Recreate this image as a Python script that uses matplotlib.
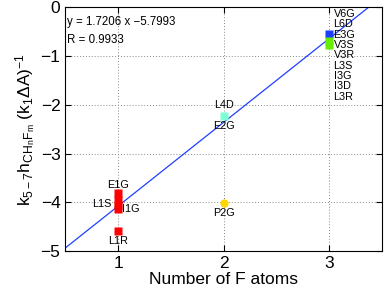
import matplotlib
matplotlib.use("Agg")
import matplotlib.pyplot as plt
import numpy as np

plt.rcParams['font.family'] = ['Liberation Sans', 'DejaVu Sans']
plt.rcParams['mathtext.fontset'] = 'custom'
plt.rcParams['mathtext.rm'] = 'Liberation Sans'
plt.rcParams['mathtext.it'] = 'Liberation Sans'

# fitted line
slope = 1.7206
intercept = -5.7993

# points: (n F atoms, value, colour, marker)
pts_x = [1, 1, 1, 1, 1, 2, 2, 3, 3, 3]
pts_y = [-3.82, -3.95, -4.05, -4.13, -4.6, -2.22, -4.01, -0.54, -0.68, -0.77]
pts_c = ['red', 'red', 'red', 'red', 'red', '#7fffd4', 'gold', '#1f3fff', '#66ee00', '#66ee00']
pts_m = ['s', 's', 's', 's', 's', 's', 'o', 's', 's', 's']

# labels
lab_text = ['E1G', 'L1S', 'I1G', 'L1R', 'L4D', 'E2G', 'P2G',
            'V6G', 'L6D', 'E3G', 'V3S', 'V3R', 'L3S', 'I3G', 'I3D', 'L3R']
lab_x = [1.0, 0.94, 1.04, 1.0, 2.0, 2.0, 2.0,
         3.04, 3.04, 3.04, 3.04, 3.04, 3.04, 3.04, 3.04, 3.04]
lab_y = [-3.64, -4.03, -4.13, -4.79, -2.0, -2.43, -4.22,
         -0.14, -0.35, -0.56, -0.77, -0.98, -1.2, -1.41, -1.62, -1.84]
lab_ha = ['center', 'right', 'left', 'center', 'center', 'center', 'center',
          'left', 'left', 'left', 'left', 'left', 'left', 'left', 'left', 'left']

fig, ax = plt.subplots(figsize=(3.84, 2.97), dpi=100)
fig.subplots_adjust(left=0.17, right=0.995, top=0.975, bottom=0.155)

xs = np.array([0.5, 3.5])
ax.plot(xs, slope * xs + intercept, color='#1f3fff', lw=0.9, zorder=2)

for x, y, c, m in zip(pts_x, pts_y, pts_c, pts_m):
    ax.plot(x, y, marker=m, color=c, ms=6, mec='none', zorder=3)

for t, x, y, ha in zip(lab_text, lab_x, lab_y, lab_ha):
    ax.text(x, y, t, ha=ha, va='center', fontsize=7.8, linespacing=1.0, zorder=4)

ax.text(0.52, -0.3, 'y = 1.7206 x \u22125.7993', fontsize=8.3, va='center')
ax.text(0.52, -0.67, 'R = 0.9933', fontsize=8.3, va='center')

ax.set_xlim(0.5, 3.5)
ax.set_ylim(-5, 0)
ax.set_xticks([1, 2, 3])
ax.set_yticks([-5, -4, -3, -2, -1, 0])
ax.grid(True, color='#888888', linestyle=(0, (1, 2)), lw=0.7)
ax.tick_params(direction='in', top=True, right=True, labelsize=12.5, length=4)
ax.set_xlabel('Number of F atoms', fontsize=12.5, labelpad=1)
ax.set_ylabel(r'k$_{5-7}$h$_{\mathrm{CH_nF_m}}$ (k$_1\Delta$A)$^{-1}$', fontsize=12.5, labelpad=2)

fig.savefig('out.png', dpi=100)
